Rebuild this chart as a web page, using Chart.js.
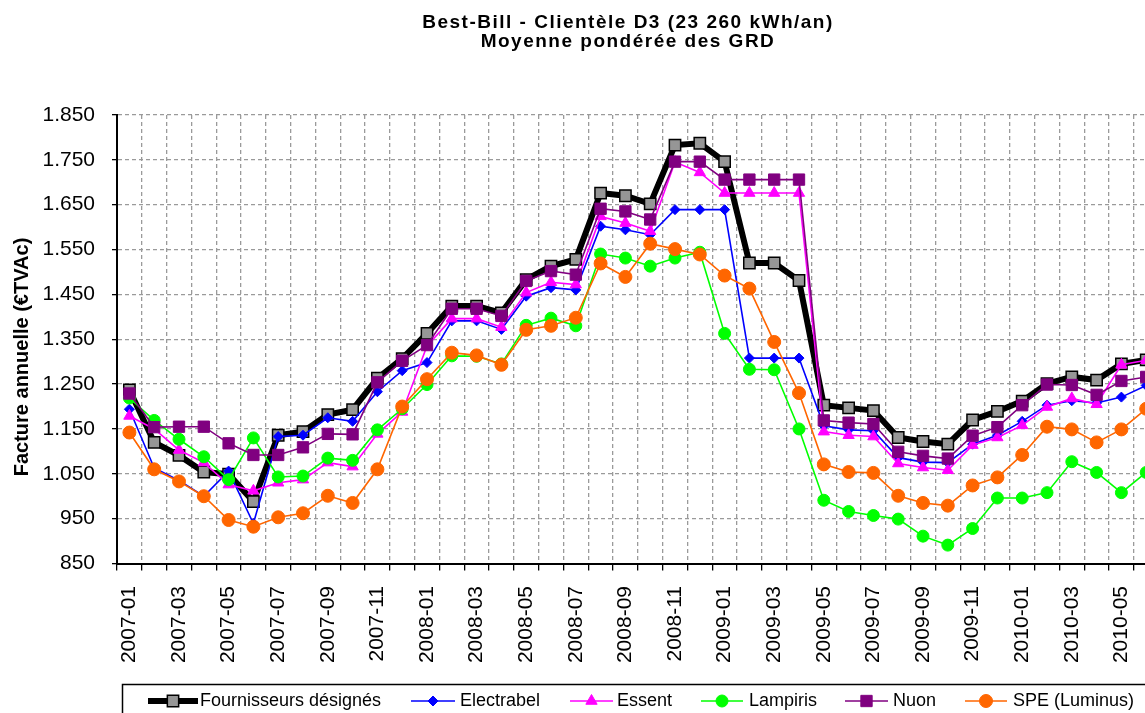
<!DOCTYPE html>
<html>
<head>
<meta charset="utf-8">
<script src="https://cdn.jsdelivr.net/npm/chart.js@4.4.1/dist/chart.umd.min.js"></script>
<style>
  html, body { margin: 0; padding: 0; background: #fff; overflow: hidden; }
  #cadre { width: 1145px; height: 713px; overflow: hidden; }
</style>
</head>
<body>
<div id="cadre"><canvas id="myChart" width="1200" height="713"></canvas></div>
<script>
//DONNEES
const mois = [
  "2007-01", "2007-02", "2007-03", "2007-04", "2007-05", "2007-06", "2007-07", "2007-08", "2007-09", "2007-10", "2007-11", "2007-12",
  "2008-01", "2008-02", "2008-03", "2008-04", "2008-05", "2008-06", "2008-07", "2008-08", "2008-09", "2008-10", "2008-11", "2008-12",
  "2009-01", "2009-02", "2009-03", "2009-04", "2009-05", "2009-06", "2009-07", "2009-08", "2009-09", "2009-10", "2009-11", "2009-12",
  "2010-01", "2010-02", "2010-03", "2010-04", "2010-05", "2010-06",
];
const fournisseursDesignes = [
  1237, 1120, 1091, 1054, 1049, 988, 1136, 1144, 1182, 1193, 1263, 1307,
  1363, 1424, 1424, 1409, 1483, 1513, 1528, 1676, 1670, 1652, 1783, 1787,
  1746, 1520, 1520, 1481, 1203, 1197, 1191, 1131, 1122, 1116, 1170, 1189,
  1212, 1251, 1266, 1259, 1295, 1304,
];
const electrabel = [
  1194, 1063, 1035, 1000, 1056, 939, 1133, 1136, 1175, 1167, 1233, 1280,
  1298, 1391, 1391, 1372, 1446, 1465, 1460, 1602, 1594, 1583, 1639, 1639,
  1639, 1308, 1308, 1308, 1157, 1148, 1146, 1086, 1076, 1075, 1116, 1136,
  1167, 1203, 1213, 1208, 1221, 1247,
];
const essent = [
  1179, 1150, 1103, 1075, 1026, 1012, 1030, 1037, 1075, 1066, 1139, 1188,
  1335, 1396, 1396, 1377, 1454, 1477, 1472, 1624, 1609, 1591, 1745, 1722,
  1676, 1676, 1676, 1676, 1144, 1136, 1133, 1073, 1064, 1058, 1114, 1131,
  1158, 1199, 1218, 1205, 1293, 1303,
];
const lampiris = [
  1219, 1169, 1127, 1088, 1037, 1130, 1043, 1045, 1085, 1080, 1148, 1195,
  1249, 1313, 1312, 1295, 1381, 1397, 1380, 1540, 1531, 1513, 1531, 1544,
  1363, 1283, 1282, 1150, 991, 966, 957, 949, 911, 891, 928, 996,
  996, 1008, 1077, 1053, 1008, 1053,
];
const nuon = [
  1229, 1154, 1155, 1155, 1118, 1092, 1092, 1109, 1139, 1138, 1254, 1302,
  1337, 1418, 1418, 1402, 1480, 1502, 1494, 1641, 1635, 1617, 1746, 1746,
  1706, 1706, 1706, 1706, 1169, 1164, 1161, 1099, 1090, 1084, 1135, 1154,
  1203, 1249, 1248, 1226, 1257, 1266,
];
const speLuminus = [
  1142, 1060, 1033, 1000, 947, 932, 953, 962, 1001, 985, 1060, 1200,
  1261, 1320, 1314, 1293, 1371, 1380, 1398, 1519, 1489, 1563, 1551, 1539,
  1492, 1463, 1344, 1230, 1071, 1054, 1052, 1001, 985, 979, 1024, 1042,
  1092, 1155, 1149, 1120, 1149, 1195,
];
const titreGraphique = ["Best-Bill - Clientèle D3 (23 260 kWh/an)", "Moyenne pondérée des GRD"];
const titreAxeY = "Facture annuelle (€TVAc)";

//CONSTANTES
const POLICE = "'Liberation Sans', Arial, sans-serif";
const GRILLE = "#9a9a9a";
// position des echantillons de legende (debut ligne, fin ligne, debut texte)
const legendePos = [
  [148, 198, 200],
  [411, 455, 460],
  [570, 613, 617],
  [701, 743, 749],
  [845, 888, 893],
  [965, 1007, 1013],
];

//FONCTIONS
function formatMilliers(v) {
  if (v >= 1000) {
    return Math.floor(v / 1000) + "." + String(v % 1000).padStart(3, "0");
  }
  return String(v);
}

function serie(label, data, couleur, largeur, style, rayon, fond, ordre) {
  return {
    label: label,
    data: data,
    borderColor: couleur,
    borderWidth: largeur,
    pointStyle: style,
    pointRadius: rayon,
    pointHoverRadius: rayon,
    pointBackgroundColor: fond,
    pointBorderColor: couleur,
    pointBorderWidth: couleur === "#000000" ? 1.5 : 1,
    tension: 0,
    order: ordre,
  };
}

function dessinerMarqueur(ctx, style, r, x, y) {
  ctx.beginPath();
  if (style === "rect") {
    const s = r * Math.SQRT1_2;
    ctx.rect(x - s, y - s, 2 * s, 2 * s);
  } else if (style === "rectRot") {
    ctx.moveTo(x, y - r);
    ctx.lineTo(x + r, y);
    ctx.lineTo(x, y + r);
    ctx.lineTo(x - r, y);
    ctx.closePath();
  } else if (style === "triangle") {
    for (let k = 0; k < 3; k++) {
      const a = (k * 2 * Math.PI) / 3;
      const px = x + Math.sin(a) * r;
      const py = y - Math.cos(a) * r;
      if (k === 0) ctx.moveTo(px, py);
      else ctx.lineTo(px, py);
    }
    ctx.closePath();
  } else {
    ctx.arc(x, y, r, 0, 2 * Math.PI);
  }
  ctx.fill();
  ctx.stroke();
}

// titres + legende facon Excel
const habillageExcel = {
  id: "habillageExcel",
  afterDraw(chart) {
    const ctx = chart.ctx;

    ctx.save();
    ctx.fillStyle = "#000";
    ctx.font = "bold 19px " + POLICE;
    ctx.letterSpacing = "1.5px";
    ctx.textAlign = "center";
    ctx.textBaseline = "middle";
    ctx.fillText(titreGraphique[0], 628, 23);
    ctx.fillText(titreGraphique[1], 628, 42);
    ctx.restore();

    ctx.save();
    ctx.fillStyle = "#000";
    ctx.font = "bold 20px " + POLICE;
    ctx.textAlign = "center";
    ctx.textBaseline = "middle";
    ctx.translate(22, 357);
    ctx.rotate(-Math.PI / 2);
    ctx.fillText(titreAxeY, 0, 0);
    ctx.restore();

    ctx.save();
    ctx.strokeStyle = "#000";
    ctx.lineWidth = 1.5;
    ctx.strokeRect(122.5, 684.5, 1030, 80);
    const yl = 701;
    chart.data.datasets.forEach((ds, i) => {
      const p = legendePos[i];
      ctx.strokeStyle = ds.borderColor;
      ctx.lineWidth = ds.borderWidth;
      ctx.beginPath();
      ctx.moveTo(p[0], yl);
      ctx.lineTo(p[1], yl);
      ctx.stroke();
      ctx.fillStyle = ds.pointBackgroundColor;
      ctx.strokeStyle = ds.pointBorderColor;
      ctx.lineWidth = ds.pointBorderWidth;
      dessinerMarqueur(ctx, ds.pointStyle, ds.pointRadius, (p[0] + p[1]) / 2, yl);
      ctx.fillStyle = "#000";
      ctx.font = "18px " + POLICE;
      ctx.textAlign = "left";
      ctx.textBaseline = "middle";
      ctx.fillText(ds.label, p[2], yl);
    });
    ctx.restore();
  },
};

function dessinerGraphique() {
  const data = {
    labels: mois,
    datasets: [
      serie("Fournisseurs désignés", fournisseursDesignes, "#000000", 6, "rect", 8, "#969696", 6),
      serie("Electrabel", electrabel, "#0000ff", 1.6, "rectRot", 5, "#0000ff", 5),
      serie("Essent", essent, "#ff00ff", 1.6, "triangle", 6.5, "#ff00ff", 4),
      serie("Lampiris", lampiris, "#00ff00", 1.6, "circle", 6, "#00ff00", 3),
      serie("Nuon", nuon, "#800080", 1.6, "rect", 8, "#800080", 2),
      serie("SPE (Luminus)", speLuminus, "#ff6600", 1.6, "circle", 6.5, "#ff6600", 1),
    ],
  };

  const config = {
    type: "line",
    data: data,
    plugins: [habillageExcel],
    options: {
      responsive: false,
      animation: false,
      devicePixelRatio: 1,
      layout: { padding: { top: 115, right: 1200 - 1158.6, left: 0, bottom: 0 } },
      plugins: {
        legend: { display: false },
        tooltip: { enabled: false },
        title: { display: false },
      },
      scales: {
        x: {
          offset: true,
          grid: {
            offset: true,
            color: GRILLE,
            lineWidth: 1.3,
            tickLength: 7,
            tickColor: "#000",
            tickWidth: 1.3,
            tickBorderDash: [],
          },
          border: { display: true, color: "#000", width: 2, dash: [4, 3] },
          ticks: {
            autoSkip: false,
            minRotation: 90,
            maxRotation: 90,
            padding: 15.5,
            color: "#000",
            font: { family: POLICE, size: 21 },
            callback: function (v, i) {
              return i % 2 === 0 ? this.getLabelForValue(v) : "";
            },
          },
          afterFit: (s) => {
            s.height = 149.5;
          },
        },
        y: {
          min: 850,
          max: 1850,
          grid: {
            color: GRILLE,
            lineWidth: 1.3,
            tickLength: 5,
            tickColor: "#000",
            tickWidth: 1.3,
            tickBorderDash: [],
          },
          border: { display: true, color: "#000", width: 2, dash: [4, 3] },
          ticks: {
            stepSize: 100,
            padding: 17,
            color: "#000",
            font: { family: POLICE, size: 21 },
            callback: (v) => formatMilliers(v),
          },
          afterFit: (s) => {
            s.width = 117;
          },
        },
      },
    },
  };
  const myChart = new Chart(document.getElementById("myChart"), config);
}

//EVENTOS
dessinerGraphique();
</script>
</body>
</html>
